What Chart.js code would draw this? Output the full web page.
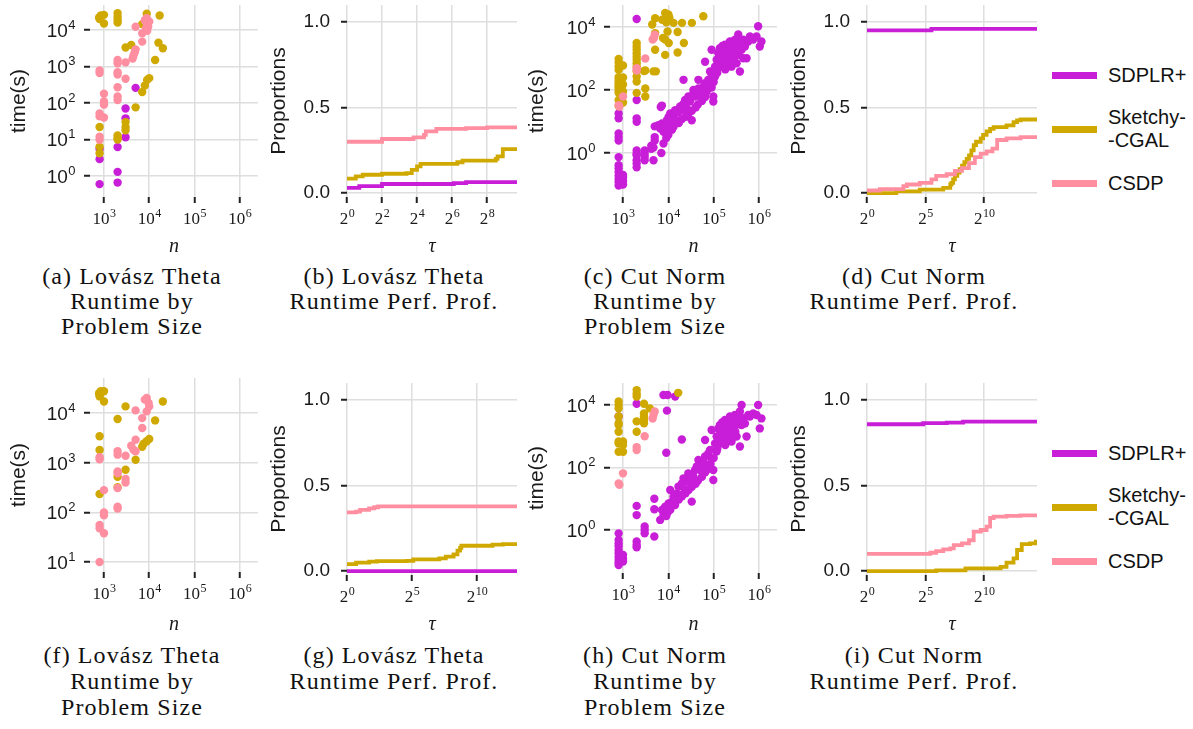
<!DOCTYPE html>
<html>
<head>
<meta charset="utf-8">
<title>SDP solver runtimes</title>
<script src="https://cdn.jsdelivr.net/npm/chart.js@4.4.1/dist/chart.umd.min.js"></script>
<style>
  html, body { margin: 0; padding: 0; background: #fff; }
  body { width: 1193px; height: 729px; position: relative; overflow: hidden; }
  canvas { position: absolute; }
  .cap {
    position: absolute; width: 260px; text-align: center; color: #111;
    font-family: 'Liberation Serif', 'Times New Roman', serif;
    font-size: 24px; letter-spacing: 1.1px; line-height: 25px;
  }
  .cap.low { line-height: 26px; }
  .leg-bar { position: absolute; left: 1052px; width: 45px; height: 7px; }
  .leg-txt {
    position: absolute; left: 1108px; color: #111;
    font-family: 'Liberation Sans', Arial, sans-serif; font-size: 20px; line-height: 23px;
  }
</style>
</head>
<body>
<canvas id="pa"></canvas>
<canvas id="pb"></canvas>
<canvas id="pc"></canvas>
<canvas id="pd"></canvas>
<canvas id="pf"></canvas>
<canvas id="pg"></canvas>
<canvas id="ph"></canvas>
<canvas id="pi"></canvas>

<div class="cap" style="left:2px; top:264px;">(a) Lovász Theta<br>Runtime by<br>Problem Size</div>
<div class="cap" style="left:264px; top:264px;">(b) Lovász Theta<br>Runtime Perf. Prof.</div>
<div class="cap" style="left:525px; top:264px;">(c) Cut Norm<br>Runtime by<br>Problem Size</div>
<div class="cap" style="left:784px; top:264px;">(d) Cut Norm<br>Runtime Perf. Prof.</div>
<div class="cap low" style="left:2px; top:642px;">(f) Lovász Theta<br>Runtime by<br>Problem Size</div>
<div class="cap low" style="left:264px; top:642px;">(g) Lovász Theta<br>Runtime Perf. Prof.</div>
<div class="cap low" style="left:525px; top:642px;">(h) Cut Norm<br>Runtime by<br>Problem Size</div>
<div class="cap low" style="left:784px; top:642px;">(i) Cut Norm<br>Runtime Perf. Prof.</div>

<script>
// solvers, in legend order
const algs = ['SDPLR+', 'Sketchy-CGAL', 'CSDP'];

// ---- (a) Lovász theta, runtime vs n : [n, seconds]
const thetaA_sdplr = [[800, 2.9], [800, 5.5], [800, 0.6], [2000, 1.3], [2000, 0.66], [2000, 6.2],
  [3000, 71], [3000, 38], [3000, 11.5], [5000, 260]];
const thetaA_sketchy = [[780, 22000], [800, 20000], [850, 25000], [1000, 26000], [1000, 15000],
  [2000, 29000], [2000, 23000], [2000, 19000], [2000, 16000], [8800, 28000], [17000, 25000],
  [7000, 14500], [3000, 3300], [4000, 3900], [16000, 4500], [20000, 3150], [13500, 1500],
  [9000, 430], [10000, 480], [8000, 300], [7000, 200], [5000, 76], [3000, 30], [3000, 22],
  [3000, 18], [2000, 13], [2000, 11], [2000, 10], [800, 22], [800, 6.3], [800, 4.2]];
const thetaA_csdp = [[800, 780], [800, 660], [1000, 180], [1000, 110], [1000, 90], [800, 52],
  [800, 43], [1000, 40], [800, 12], [800, 9.8], [2000, 1500], [2000, 1230], [2000, 700],
  [2000, 600], [2000, 270], [2000, 150], [2000, 120], [3000, 1300], [3000, 460], [4500, 2000],
  [4300, 1660], [5000, 2950], [4800, 2450], [5000, 12300], [7000, 8100], [7000, 4800],
  [8000, 18600], [8800, 21000], [8800, 15000], [9500, 12300], [10000, 17000], [8500, 11000],
  [9000, 9500]];

// ---- (b) Lovász theta, performance profile : [log2 tau, proportion]
const thetaB_sdplr = [[0, 0.03], [0.7, 0.04], [2.0, 0.053], [6.1, 0.058], [6.8, 0.064], [9.71, 0.064]];
const thetaB_sketchy = [[0, 0.084], [0.5, 0.097], [0.9, 0.107], [2.0, 0.113], [3.4, 0.117],
  [3.7, 0.135], [4.0, 0.156], [4.2, 0.17], [6.3, 0.18], [6.6, 0.19], [8.5, 0.2], [8.6, 0.214],
  [8.9, 0.257], [9.71, 0.257]];
const thetaB_csdp = [[0, 0.30], [2.0, 0.316], [3.8, 0.325], [4.4, 0.34], [4.5, 0.36], [5.1, 0.375],
  [6.8, 0.38], [8.0, 0.384], [9.71, 0.384]];

// ---- (c) Cut norm, runtime vs n
const cutC_sdplr = [[800, 18], [800, 12.6], [800, 4.2], [800, 3.2], [800, 2.5], [800, 0.74],
  [800, 0.41], [800, 0.32], [800, 0.25], [800, 0.19], [800, 0.15], [800, 0.12], [800, 0.093],
  [850, 0.11], [1000, 0.17], [1000, 0.13], [1000, 0.1], [1000, 0.2], [2000, 18000], [2000, 48],
  [2000, 12.6], [2000, 9.8], [2000, 1.2], [2000, 0.95], [2000, 0.85], [2000, 0.59], [2000, 0.46],
  [2000, 0.35], [3000, 1.2], [3000, 0.95], [3000, 0.76], [3000, 0.59], [4200, 1.7], [4200, 1.35],
  [4700, 0.59], [5000, 3.2], [5000, 2.5], [5000, 7], [7000, 1.0], [6800, 29], [7200, 32],
  [4700, 1.5], [7800, 2], [6000, 7.6], [6600, 6], [7200, 8.7], [7800, 4.7], [8500, 6.8],
  [9300, 11], [9300, 4.2], [10100, 14], [11000, 8.7], [11000, 18], [12000, 12.6], [13000, 16],
  [13000, 6.8], [14100, 23], [15300, 11], [16700, 20], [18200, 30], [19800, 23], [21600, 37],
  [23400, 48], [25400, 26], [27600, 62], [30100, 43], [32800, 11], [35700, 78], [35700, 100],
  [38800, 62], [42200, 89], [46000, 210], [46000, 112], [50000, 69], [54500, 100], [59000, 128],
  [64500, 790], [64500, 163], [70000, 89], [76000, 210], [83000, 385], [83000, 144], [90000, 1900],
  [90000, 270], [98000, 43], [98000, 62], [107000, 550], [107000, 270], [116000, 910],
  [116000, 440], [126000, 1480], [126000, 630], [137000, 2140], [137000, 1020], [149000, 1320],
  [149000, 550], [162000, 1900], [162000, 790], [177000, 1150], [177000, 2750], [192000, 1480],
  [192000, 630], [210000, 2400], [210000, 910], [228000, 1900], [228000, 3470], [248000, 1320],
  [248000, 550], [270000, 2750], [270000, 1020], [294000, 3980], [294000, 1900], [320000, 710],
  [320000, 2400], [348000, 5750], [348000, 1320], [379000, 3090], [379000, 385], [412000, 1900],
  [448000, 3980], [448000, 1020], [488000, 2400], [531000, 1020], [578000, 3470], [629000, 5010],
  [745000, 3980], [880000, 5010], [955000, 10500], [1040000, 2400], [1130000, 3470], [21600, 210],
  [140000, 1700], [155000, 2500], [170000, 1600], [185000, 2200], [200000, 1300], [215000, 2900],
  [235000, 2300], [255000, 1700], [280000, 3300], [300000, 2600], [330000, 3000], [360000, 2100],
  [400000, 3500], [430000, 2800], [300000, 1200], [260000, 900], [200000, 700], [180000, 450],
  [120000, 350], [100000, 180], [90000, 120], [75000, 110], [65000, 60], [55000, 45], [45000, 35],
  [40000, 28], [33000, 22], [28000, 18], [24000, 14], [20000, 12], [17000, 9], [14000, 8.5],
  [12000, 5.5], [10000, 3.8], [9000, 3.0]];
const cutC_sketchy = [[800, 960], [800, 740], [800, 555], [800, 435], [800, 253], [800, 208],
  [800, 170], [800, 144], [800, 123], [800, 100], [800, 82], [800, 48], [800, 31], [1000, 600],
  [1000, 250], [1000, 150], [1000, 90], [1000, 40], [2000, 3100], [2000, 2400], [2000, 1900],
  [2000, 1480], [2000, 1150], [2000, 910], [2000, 710], [2000, 550], [2000, 390], [2000, 270],
  [2000, 186], [2000, 81], [3100, 415], [3100, 112], [3100, 62], [2900, 400], [5100, 19000],
  [4400, 12000], [5100, 6400], [5100, 1900], [4700, 390], [5300, 390], [8500, 28000],
  [10000, 25000], [7300, 17000], [9600, 7200], [8500, 4000], [7600, 4500], [10200, 3100],
  [8500, 1300], [16000, 6900], [13000, 13500], [20000, 13500], [33000, 13500], [22000, 3100],
  [16000, 1550], [59000, 22000], [10500, 20000], [9000, 14000]];
const cutC_csdp = [[4800, 4500], [4500, 4000], [5000, 5700], [3100, 1000], [2000, 490], [2000, 415],
  [800, 33], [830, 30], [1000, 62]];

// ---- (d) Cut norm, performance profile
const cutD_sdplr = [[0, 0.951], [5.5, 0.959], [14.5, 0.959]];
const cutD_sketchy = [[0, 0.0], [2.5, 0.01], [4.5, 0.02], [6.5, 0.03], [7.1, 0.05], [7.2, 0.06],
  [7.35, 0.08], [7.5, 0.1], [7.7, 0.12], [7.9, 0.14], [8.1, 0.16], [8.3, 0.18], [8.5, 0.2],
  [8.7, 0.22], [8.9, 0.25], [9.1, 0.28], [9.3, 0.3], [9.7, 0.32], [9.9, 0.34], [10.2, 0.36],
  [10.5, 0.375], [10.8, 0.385], [11.9, 0.395], [12.5, 0.415], [12.8, 0.425], [13.1, 0.43], [14.5, 0.43]];
const cutD_csdp = [[0, 0.015], [1.1, 0.023], [3.1, 0.04], [3.4, 0.05], [4.5, 0.06], [5.5, 0.08],
  [5.9, 0.10], [6.8, 0.11], [7.5, 0.13], [8.1, 0.146], [8.7, 0.175], [9.2, 0.21], [9.7, 0.23],
  [10.2, 0.244], [10.7, 0.26], [11.1, 0.31], [11.9, 0.32], [13.1, 0.327], [14.5, 0.33]];

// ---- (f) Lovász theta, runtime vs n (second row, no SDPLR+ points)
const thetaF_sdplr = [];
const thetaF_sketchy = [[780, 25000], [800, 23000], [850, 27500], [800, 21600], [1000, 27500],
  [1000, 17000], [800, 3400], [800, 1800], [800, 235], [2000, 7600], [2000, 520], [2000, 320],
  [3000, 13600], [3000, 720], [5000, 1150], [7000, 2100], [7500, 2400], [8800, 2700],
  [10000, 3000], [13500, 7100], [20000, 17000]];
const thetaF_csdp = [[800, 1290], [800, 1170], [1000, 280], [1000, 100], [1000, 87], [800, 56],
  [800, 48], [1000, 38], [800, 10], [2000, 1700], [2000, 1450], [2000, 665], [2000, 610],
  [2000, 310], [2000, 130], [2000, 120], [3000, 1380], [3000, 470], [3000, 400], [4000, 2200],
  [4500, 1820], [5000, 2900], [5000, 1700], [5000, 11300], [7000, 7900], [7000, 5000],
  [8000, 18600], [8800, 20000], [9700, 15900], [8800, 10800], [10000, 13600]];

// ---- (g) Lovász theta, performance profile
const thetaG_sdplr = [[0, 0], [13.08, 0]];
const thetaG_sketchy = [[0, 0.041], [0.7, 0.049], [1.7, 0.055], [2.3, 0.058], [4.6, 0.06],
  [5.1, 0.068], [7.1, 0.074], [7.6, 0.084], [8.2, 0.097], [8.5, 0.12], [8.7, 0.135],
  [8.8, 0.148], [11.2, 0.154], [12.0, 0.158], [13.08, 0.158]];
const thetaG_csdp = [[0, 0.343], [0.7, 0.347], [1.0, 0.357], [1.7, 0.366], [2.1, 0.373],
  [2.4, 0.378], [13.08, 0.378]];

// ---- (h) Cut norm, runtime vs n (second row)
const cutH_sdplr = [[800, 4300], [800, 0.78], [800, 0.48], [800, 0.37], [800, 0.30], [800, 0.23],
  [800, 0.18], [800, 0.14], [800, 0.11], [800, 0.089], [800, 0.076], [1000, 0.16], [1000, 0.12],
  [1000, 0.098], [2000, 11000], [2000, 5.9], [2000, 3.0], [2000, 0.43], [2000, 0.33], [2000, 0.28],
  [3000, 1.3], [3000, 1.0], [3000, 0.78], [4900, 10], [4900, 4.6], [4900, 0.62], [7800, 21000],
  [9600, 21000], [9300, 6600], [14100, 18600], [19800, 790], [9000, 295], [6600, 2.1], [7200, 4.4],
  [7800, 3.0], [8500, 5.6], [9300, 3.4], [10100, 7.1], [11000, 4.4], [11000, 19], [12000, 8.1],
  [13000, 11.7], [14100, 6.3], [15300, 14.8], [16700, 24.5], [18200, 13.2], [19800, 31],
  [21600, 45], [23400, 19], [25400, 35], [27600, 65], [30100, 40], [32800, 8.1], [35700, 51],
  [38800, 83], [42200, 107], [46000, 174], [50000, 83], [54500, 120], [59000, 155], [64500, 760],
  [64500, 224], [70000, 83], [76000, 282], [83000, 363], [90000, 1580], [90000, 195], [98000, 40],
  [98000, 83], [107000, 590], [116000, 980], [116000, 324], [126000, 1780], [126000, 676],
  [137000, 2290], [137000, 1100], [149000, 1580], [149000, 590], [162000, 2570], [162000, 850],
  [177000, 1230], [177000, 3310], [192000, 1780], [192000, 760], [210000, 3310], [210000, 1100],
  [228000, 2290], [228000, 4270], [248000, 1580], [248000, 676], [270000, 3310], [270000, 1230],
  [294000, 4790], [294000, 2290], [320000, 980], [320000, 2950], [348000, 3720], [379000, 6170],
  [379000, 468], [412000, 2290], [412000, 10000], [448000, 3720], [488000, 2570], [531000, 980],
  [578000, 4790], [629000, 4270], [745000, 5370], [880000, 4790], [955000, 10000], [1040000, 1780],
  [1130000, 3720], [140000, 1900], [155000, 2800], [170000, 1800], [185000, 2500], [200000, 1500],
  [215000, 3200], [235000, 2600], [255000, 1900], [280000, 3700], [300000, 2900], [330000, 3400],
  [360000, 2400], [400000, 3900], [430000, 3100], [300000, 1400], [260000, 1000], [200000, 800],
  [180000, 520], [120000, 400], [100000, 200], [85000, 130], [75000, 120], [65000, 70],
  [55000, 50], [45000, 38], [40000, 30], [33000, 24], [28000, 19], [24000, 15], [20000, 12],
  [17000, 9.5], [14000, 9], [12000, 5.8], [10000, 4], [9000, 2.8]];
const cutH_sketchy = [[800, 12900], [800, 10000], [800, 7800], [800, 4300], [800, 2600], [800, 2300],
  [800, 1400], [800, 680], [800, 590], [800, 320], [1000, 680], [1000, 520], [1000, 320],
  [2000, 30000], [2000, 23000], [2000, 18600], [2000, 3000], [2000, 1400], [2900, 11000],
  [2900, 5400], [2900, 4300], [2900, 3300], [2900, 2600], [3900, 7800], [16500, 24500]];
const cutH_csdp = [[5000, 6200], [4700, 4800], [4500, 3700], [3000, 1000], [2000, 450], [2000, 360],
  [1000, 65], [800, 31], [830, 28]];

// ---- (i) Cut norm, performance profile
const cutI_sdplr = [[0, 0.858], [4.8, 0.864], [6.8, 0.867], [8.2, 0.873], [14.5, 0.873]];
const cutI_sketchy = [[0, 0.0], [5.9, 0.004], [8.4, 0.016], [11.4, 0.025], [11.9, 0.049],
  [12.5, 0.074], [12.8, 0.123], [13.2, 0.158], [13.9, 0.162], [14.4, 0.172], [14.5, 0.172]];
const cutI_csdp = [[0, 0.10], [5.4, 0.107], [5.9, 0.117], [6.5, 0.127], [7.1, 0.133], [7.4, 0.152],
  [8.1, 0.162], [8.7, 0.18], [9.1, 0.23], [9.7, 0.24], [10.2, 0.26], [10.5, 0.31], [10.8, 0.318],
  [11.9, 0.322], [13.1, 0.326], [14.5, 0.327]];

// tick values
const nTicks = [1e3, 1e4, 1e5, 1e6];
const propTicks = [0, 0.5, 1];

const COLORS = { 'SDPLR+': '#C81ED8', 'Sketchy-CGAL': '#D0A900', 'CSDP': '#FF8FA0' };
const SANS = "'Liberation Sans', Arial, sans-serif";
const SERIF = "'Liberation Serif', 'Times New Roman', serif";
const INK = '#1a1a1a';

Chart.defaults.animation = false;
Chart.defaults.font.family = SANS;
Chart.defaults.color = INK;

// tick labels like 10^4 or 2^5 with a raised exponent
const powerLabels = {
  id: 'powerLabels',
  afterDraw(chart, args, opts) {
    const ctx = chart.ctx;
    const area = chart.chartArea;
    ctx.save();
    ctx.fillStyle = INK;
    ctx.textAlign = 'left';
    ctx.textBaseline = 'alphabetic';
    ['x', 'y'].forEach(axis => {
      const o = opts[axis];
      if (!o || !o.base) return;
      const scale = chart.scales[axis];
      scale.ticks.forEach(t => {
        const e = String(o.log ? Math.round(Math.log10(t.value)) : t.value);
        const pos = scale.getPixelForValue(t.value);
        ctx.font = o.size + 'px ' + o.family;
        const wb = ctx.measureText(o.base).width;
        ctx.font = o.expSize + 'px ' + o.family;
        const we = ctx.measureText(e).width;
        let x, y;
        if (axis === 'x') {
          x = pos - (wb + we) / 2;
          y = area.bottom + o.offset;
        } else {
          x = area.left - o.offset - wb - we;
          y = pos + o.size * 0.36;
        }
        ctx.font = o.size + 'px ' + o.family;
        ctx.fillText(o.base, x, y);
        ctx.font = o.expSize + 'px ' + o.family;
        ctx.fillText(e, x + wb + 0.5, y - o.raise);
      });
    });
    ctx.restore();
  }
};

const GRID = { color: '#dedede', lineWidth: 1.5, drawTicks: true, tickLength: 6, tickWidth: 2, tickColor: '#222' };
const X_POW10 = { base: '10', log: true, size: 17, expSize: 12, raise: 7, family: SERIF, offset: 27 };
const X_POW2 = { base: '2', log: false, size: 17, expSize: 12, raise: 7, family: SERIF, offset: 27 };
const Y_POW10 = { base: '10', log: true, size: 19, expSize: 13, raise: 8, family: SANS, offset: 15 };

function place(id, g) {
  const c = document.getElementById(id);
  c.width = g.w;
  c.height = g.h;
  c.style.left = g.x + 'px';
  c.style.top = g.y + 'px';
  return c;
}

function pts(pairs) {
  return pairs.map(p => ({ x: p[0], y: p[1] }));
}

// fixed axis sizes so the plot area lands where the reference has it
function axisBase(g, which, title, titlePad) {
  const isX = which === 'x';
  return {
    border: { display: false },
    grid: GRID,
    title: {
      display: true,
      text: title,
      color: INK,
      font: isX ? { family: SERIF, size: 20, style: 'italic' } : { family: SANS, size: 21 },
      padding: isX ? { top: 0, bottom: 3 } : { top: titlePad, bottom: 0 }
    },
    afterFit: isX
      ? (s => { s.height = g.y + g.h - g.b; s.paddingLeft = 0; s.paddingRight = 0; })
      : (s => { s.width = g.l - g.x; s.paddingTop = 0; s.paddingBottom = 0; })
  };
}

function layoutFor(g) {
  return { padding: { top: g.t - g.y, right: g.x + g.w - g.r, left: 0, bottom: 0 } };
}

// runtime vs problem size scatter
function scatterPanel(id, g, range, yTicks, series) {
  const names = algs.slice().reverse(); // CSDP drawn on top
  const datasets = algs.map((name, i) => ({
    label: name,
    data: pts(series[i]),
    backgroundColor: COLORS[name],
    borderWidth: 0,
    pointRadius: 4.2,
    pointHoverRadius: 4.2,
    clip: false,
    order: names.indexOf(name)
  }));
  const x = axisBase(g, 'x', 'n');
  Object.assign(x, {
    type: 'logarithmic', min: range.xMin, max: range.xMax,
    ticks: { display: false },
    afterBuildTicks: s => { s.ticks = nTicks.map(v => ({ value: v })); }
  });
  const y = axisBase(g, 'y', 'time(s)', g.titlePad);
  Object.assign(y, {
    type: 'logarithmic', min: range.yMin, max: range.yMax,
    ticks: { display: false },
    afterBuildTicks: s => { s.ticks = yTicks.map(v => ({ value: v })); }
  });
  return new Chart(place(id, g), {
    type: 'scatter',
    data: { datasets },
    options: {
      responsive: false,
      animation: false,
      layout: layoutFor(g),
      plugins: {
        legend: { display: false },
        tooltip: { enabled: false },
        powerLabels: { x: X_POW10, y: Y_POW10 }
      },
      scales: { x, y }
    },
    plugins: [powerLabels]
  });
}

// performance profile, x in log2(tau)
function profilePanel(id, g, xMax, xTicks, series) {
  const names = algs.slice().reverse();
  const datasets = algs.map((name, i) => ({
    label: name,
    data: pts(series[i]),
    borderColor: COLORS[name],
    backgroundColor: COLORS[name],
    borderWidth: 3.8,
    pointRadius: 0,
    stepped: 'before',
    fill: false,
    order: names.indexOf(name)
  }));
  const x = axisBase(g, 'x', 'τ');
  Object.assign(x, {
    type: 'linear', min: 0, max: xMax,
    ticks: { display: false },
    afterBuildTicks: s => { s.ticks = xTicks.map(v => ({ value: v })); }
  });
  const y = axisBase(g, 'y', 'Proportions', g.titlePad);
  Object.assign(y, {
    type: 'linear', min: -0.023, max: 1.099,
    ticks: { font: { family: SANS, size: 19 }, color: INK, padding: 11, callback: v => v.toFixed(1) },
    afterBuildTicks: s => { s.ticks = propTicks.map(v => ({ value: v })); }
  });
  return new Chart(place(id, g), {
    type: 'line',
    data: { datasets },
    options: {
      responsive: false,
      animation: false,
      layout: layoutFor(g),
      plugins: {
        legend: { display: false },
        tooltip: { enabled: false },
        powerLabels: { x: X_POW2 }
      },
      scales: { x, y }
    },
    plugins: [powerLabels]
  });
}

function drawLegend(top) {
  const offs = [0, 54, 108];
  algs.forEach((name, i) => {
    const cy = top + offs[i];
    const bar = document.createElement('div');
    bar.className = 'leg-bar';
    bar.style.top = (cy - 3.5) + 'px';
    bar.style.background = COLORS[name];
    document.body.appendChild(bar);
    const lines = name === 'Sketchy-CGAL' ? ['Sketchy-', '-CGAL'] : [name];
    const txt = document.createElement('div');
    txt.className = 'leg-txt';
    txt.innerHTML = lines.join('<br>');
    txt.style.top = (cy - lines.length * 11.5) + 'px';
    document.body.appendChild(txt);
  });
}

// panel boxes: canvas (x, y, w, h) and plot area (l, t, r, b) in page pixels
const geoA = { x: 0, y: 0, w: 262, h: 262, l: 90, t: 5, r: 258, b: 197, titlePad: 7 };
const geoB = { x: 262, y: 0, w: 260, h: 262, l: 347, t: 5, r: 517, b: 197, titlePad: 5 };
const geoC = { x: 522, y: 0, w: 260, h: 262, l: 610, t: 5, r: 777, b: 197, titlePad: 3 };
const geoD = { x: 782, y: 0, w: 260, h: 262, l: 867, t: 5, r: 1037, b: 197, titlePad: 5 };
const geoF = { x: 0, y: 368, w: 262, h: 272, l: 90, t: 378, r: 258, b: 572, titlePad: 7 };
const geoG = { x: 262, y: 368, w: 260, h: 272, l: 347, t: 383, r: 517, b: 575, titlePad: 5 };
const geoH = { x: 522, y: 368, w: 260, h: 272, l: 610, t: 383, r: 777, b: 573, titlePad: 3 };
const geoI = { x: 782, y: 368, w: 260, h: 272, l: 867, t: 383, r: 1037, b: 575, titlePad: 5 };

scatterPanel('pa', geoA, { xMin: 491, xMax: 2.51e6, yMin: 0.266, yMax: 48400 }, [1, 10, 100, 1e3, 1e4],
  [thetaA_sdplr, thetaA_sketchy, thetaA_csdp]);
profilePanel('pb', geoB, 9.71, [0, 2, 4, 6, 8], [thetaB_sdplr, thetaB_sketchy, thetaB_csdp]);
scatterPanel('pc', geoC, { xMin: 516, xMax: 2.49e6, yMin: 0.0401, yMax: 49900 }, [1, 100, 1e4],
  [cutC_sdplr, cutC_sketchy, cutC_csdp]);
profilePanel('pd', geoD, 14.5, [0, 5, 10], [cutD_sdplr, cutD_sketchy, cutD_csdp]);

scatterPanel('pf', geoF, { xMin: 491, xMax: 2.51e6, yMin: 6.3, yMax: 50700 }, [10, 100, 1e3, 1e4],
  [thetaF_sdplr, thetaF_sketchy, thetaF_csdp]);
profilePanel('pg', geoG, 13.08, [0, 5, 10], [thetaG_sdplr, thetaG_sketchy, thetaG_csdp]);
scatterPanel('ph', geoH, { xMin: 516, xMax: 2.49e6, yMin: 0.042, yMax: 50600 }, [1, 100, 1e4],
  [cutH_sdplr, cutH_sketchy, cutH_csdp]);
profilePanel('pi', geoI, 14.5, [0, 5, 10], [cutI_sdplr, cutI_sketchy, cutI_csdp]);

drawLegend(75);
drawLegend(453);
</script>
</body>
</html>
